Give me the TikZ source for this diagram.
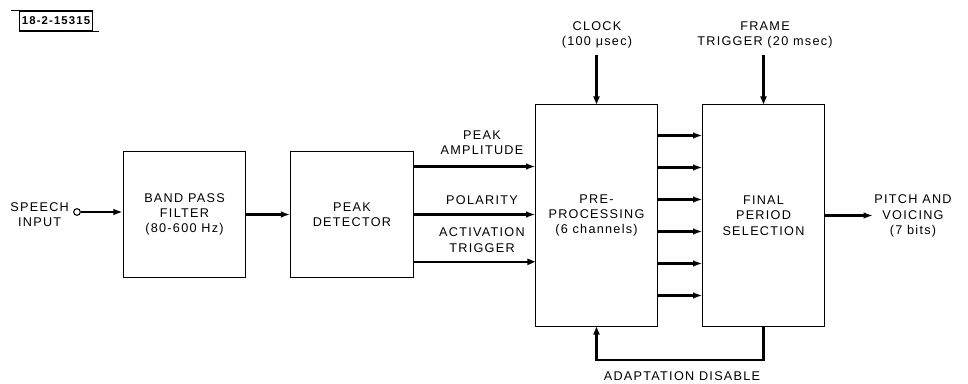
\documentclass[tikz,border=0pt]{standalone}
\usepackage{fontspec}
\setmainfont{Liberation Sans}[LetterSpace=10]
\usetikzlibrary{arrows.meta, positioning, calc}

\begin{document}
\begin{tikzpicture}[
    x=0.75pt, y=-0.75pt,
    font=\fontsize{9.5}{11.5}\selectfont,
    block/.style={draw, line width=0.7pt, align=center, inner sep=0pt, minimum width=92pt, minimum height=95pt},
    tallblock/.style={block, minimum width=91pt, minimum height=166pt},
    sig/.style={-{Latex[length=7pt, width=5pt]}, line width=1.6pt},
    ctl/.style={-{Triangle[open, length=6pt, width=4.5pt]}, line width=1.6pt},
    lbl/.style={align=center, inner sep=1pt},
]
\useasboundingbox (0,0) rectangle (968,384);

% drawing number
\node[draw, line width=0.8pt, inner sep=2pt, minimum width=52pt, minimum height=15pt, font=\fontsize{8.5}{9}\selectfont\bfseries] (tag) at (56,21) {18-2-15315};
\draw[line width=0.8pt] (tag.north west) -- ++(-8,0);
\draw[line width=0.8pt] (tag.south east) -- ++(6,0);

% blocks
\node[block] (bpf) at (184.5,214.5) {BAND PASS\\FILTER\\(80-600 Hz)};
\node[block] (pkd) at (352,214.5) {PEAK\\DETECTOR};
\node[tallblock] (pre) at (596.5,215.5) {PRE-\\PROCESSING\\(6 channels)};
\node[tallblock] (fps) at (763.5,215.5) {FINAL\\PERIOD\\SELECTION};

% input
\node[circle, draw, line width=0.8pt, minimum size=5pt, inner sep=0pt] (sin) at (77,212) {};
\node[lbl, left=2pt of sin, yshift=-2pt] (sinlbl) {SPEECH\\INPUT};
\draw[sig] (sin) -- (sin -| bpf.west);
\draw[sig] (bpf) -- (pkd);

% detector outputs
\draw[sig] ([yshift=36pt]pkd.east) -- ([yshift=36pt]pkd.east -| pre.west);
\draw[sig] (pkd.east) -- (pkd.east -| pre.west);
\draw[ctl] ([yshift=-35.5pt]pkd.east) -- ([yshift=-35.5pt]pkd.east -| pre.west);
\node[lbl] (palbl) at (482,143) {PEAK\\AMPLITUDE};
\node[lbl] (pollbl) at (482,200) {POLARITY};
\node[lbl] (actlbl) at (482,240) {ACTIVATION\\TRIGGER};

% channels
\foreach \dy in {-60,-36,-12,12,36,60}
    \draw[sig] ([yshift=\dy pt]pre.east) -- ([yshift=\dy pt]pre.east -| fps.west);

% timing inputs
\node[lbl] (clklbl) at (597,35) {CLOCK\\(100 μsec)};
\node[lbl] (frmlbl) at (765,35) {FRAME\\TRIGGER (20 msec)};
\draw[ctl, shorten <=4pt] (clklbl.south -| pre.north) -- (pre.north);
\draw[ctl, shorten <=4pt] (frmlbl.south -| fps.north) -- (fps.north);

% output
\node[lbl] (out) at (913,216) {PITCH AND\\VOICING\\(7 bits)};
\draw[sig] (fps.east) -- (fps.east -| out.west);

% feedback
\node[lbl] (adlbl) at (682,376) {ADAPTATION DISABLE};
\draw[ctl] (fps.south) -- ++(0,33) -| (pre.south);

\end{tikzpicture}
\end{document}
